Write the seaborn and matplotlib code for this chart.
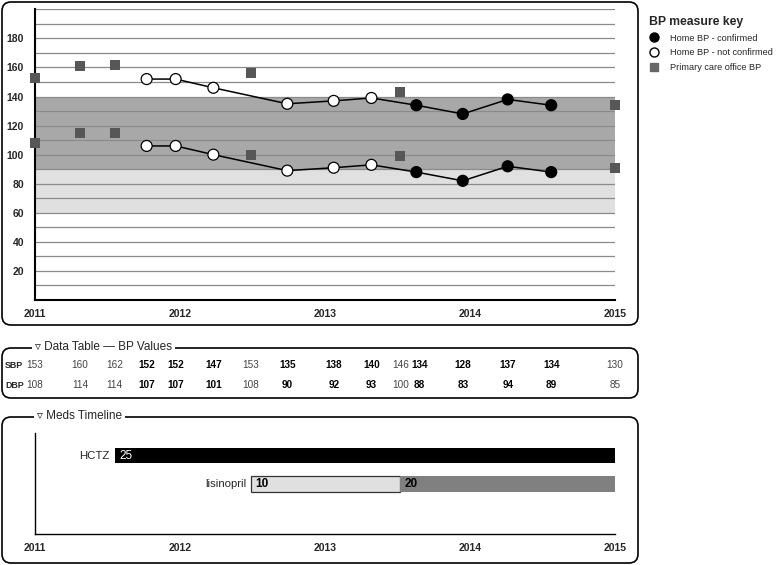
import pandas as pd
import seaborn as sns
import matplotlib.pyplot as plt
from matplotlib.patches import FancyBboxPatch
from matplotlib.lines import Line2D

# ---- data (dates as decimal years) ----
years = [2011, 2012, 2013, 2014, 2015]

office_dates = [2011.0, 2011.31, 2011.55, 2012.49, 2013.52, 2015.0]
office_sbp = [153, 161, 162, 156, 143, 134]
office_dbp = [108, 115, 115, 100, 99, 91]

home_dates = [2011.77, 2011.97, 2012.23, 2012.74, 2013.06, 2013.32,
              2013.63, 2013.95, 2014.26, 2014.56]
home_sbp = [152, 152, 146, 135, 137, 139, 134, 128, 138, 134]
home_dbp = [106, 106, 100, 89, 91, 93, 88, 82, 92, 88]
home_confirmed = [False, False, False, False, False, False, True, True, True, True]

# values listed in the data table
table_dates = [2011.0, 2011.31, 2011.55, 2011.77, 2011.97, 2012.23, 2012.49, 2012.74,
               2013.06, 2013.32, 2013.52, 2013.65, 2013.95, 2014.26, 2014.56, 2015.0]
table_sbp = [153, 160, 162, 152, 152, 147, 153, 135, 138, 140, 146, 134, 128, 137, 134, 130]
table_dbp = [108, 114, 114, 107, 107, 101, 108, 90, 92, 93, 100, 88, 83, 94, 89, 85]
table_home = [False, False, False, True, True, True, False, True,
              True, True, False, True, True, True, True, False]

# meds timeline
meds = ['HCTZ', 'lisinopril']
med_segments = [('HCTZ', 2011.55, 2015.0, '25'),
                ('lisinopril', 2012.49, 2013.52, '10'),
                ('lisinopril', 2013.52, 2015.0, '20')]

sns.set_style('white')
plt.rcParams['font.family'] = ['Liberation Sans', 'DejaVu Sans']

W, H = 778, 565
fig = plt.figure(figsize=(W / 100, H / 100), dpi=100)


def rect(x0, y0, x1, y1):
    # pixel box (top-left origin) -> figure fraction
    return [x0 / W, 1 - y1 / H, (x1 - x0) / W, (y1 - y0) / H]


def panel(x0, y0, x1, y1):
    p = FancyBboxPatch((x0 / 100, (H - y1) / 100), (x1 - x0) / 100, (y1 - y0) / 100,
                       boxstyle='round,pad=0,rounding_size=0.09',
                       transform=fig.dpi_scale_trans, facecolor='none',
                       edgecolor='black', lw=1.2)
    fig.add_artist(p)


def panel_title(x, y, s):
    fig.text(x / W, 1 - y / H, s, fontsize=8.5, va='center', ha='left',
             bbox=dict(facecolor='white', edgecolor='none', pad=2.5))


panel(2, 2, 638, 325)
panel(2, 348, 638, 398)
panel(2, 417, 638, 563)

# ---- BP chart ----
ax = fig.add_axes(rect(35, 9.3, 615, 300))
ax.axhspan(90, 140, color='#a8a8a8', zorder=0, lw=0)
ax.axhspan(60, 90, color='#e0e0e0', zorder=0, lw=0)

home = pd.DataFrame({'date': home_dates * 2, 'value': home_sbp + home_dbp,
                     'measure': ['SBP'] * len(home_dates) + ['DBP'] * len(home_dates),
                     'confirmed': home_confirmed * 2})
office = pd.DataFrame({'date': office_dates * 2, 'value': office_sbp + office_dbp})

sns.lineplot(data=home, x='date', y='value', units='measure', estimator=None,
             color='black', lw=1.1, ax=ax, zorder=3)
sns.scatterplot(data=home, x='date', y='value', hue='confirmed',
                palette={True: 'black', False: 'white'}, edgecolor='black',
                linewidth=0.9, s=62, legend=False, ax=ax, zorder=4)
sns.scatterplot(data=office, x='date', y='value', marker='s', color='#575757',
                edgecolor='none', s=52, legend=False, ax=ax, zorder=6,
                clip_on=False)

ax.set_xlim(2011, 2015)
ax.set_ylim(0, 200)
ax.set_yticks(range(0, 201, 10))
ax.set_yticklabels([str(v) if v % 20 == 0 and 0 < v < 200 else '' for v in range(0, 201, 10)])
ax.set_xticks(years)
ax.set_xticklabels([str(y) for y in years])
ax.yaxis.grid(True, color='#8a8a8a', lw=0.9)
ax.set_axisbelow(False)
for g in ax.get_ygridlines():
    g.set_zorder(1)
ax.set_xlabel('')
ax.set_ylabel('')
for s in ['top', 'right']:
    ax.spines[s].set_visible(False)
for s in ['left', 'bottom']:
    ax.spines[s].set_linewidth(1.5)
    ax.spines[s].set_color('black')
    ax.spines[s].set_zorder(5)
ax.tick_params(axis='y', direction='inout', length=6, width=1, pad=5, labelsize=7.5)
ax.tick_params(axis='x', direction='inout', length=9, width=1, pad=2, labelsize=7.5)
for lab in ax.get_xticklabels() + ax.get_yticklabels():
    lab.set_fontweight('bold')
ax.set_facecolor('none')

handles = [Line2D([], [], marker='o', ls='', color='black', markersize=6.5),
           Line2D([], [], marker='o', ls='', markerfacecolor='white',
                  markeredgecolor='black', markersize=6.5),
           Line2D([], [], marker='s', ls='', color='#666666', markersize=6)]
leg = ax.legend(handles, ['Home BP - confirmed', 'Home BP - not confirmed',
                          'Primary care office BP'],
                loc='upper left', bbox_to_anchor=(649 / W, 1 - 16 / H),
                bbox_transform=fig.transFigure, frameon=False, fontsize=6.6,
                title='BP measure key', alignment='left',
                title_fontproperties={'weight': 'bold', 'size': 8.8},
                handletextpad=1.3, labelspacing=0.62, handlelength=1.0,
                borderpad=0, borderaxespad=0)

# ---- data table ----
panel_title(35, 347, '\u25bf Data Table \u2014 BP Values')
axt = fig.add_axes(rect(35, 355, 615, 395))
axt.set_xlim(2011, 2015)
axt.set_ylim(395, 355)
axt.axis('off')
for d, sv, dv, h in zip(table_dates, table_sbp, table_dbp, table_home):
    kw = dict(fontsize=7.2, ha='center', va='center',
              fontweight='bold' if h else 'normal',
              color='black' if h else '#444444')
    axt.text(d, 365.5, str(sv), **kw)
    axt.text(d, 385.5, str(dv), **kw)
fig.text(5 / W, 1 - 365.5 / H, 'SBP', fontsize=6.4, fontweight='bold', va='center')
fig.text(5 / W, 1 - 385.5 / H, 'DBP', fontsize=6.4, fontweight='bold', va='center')

# ---- meds timeline ----
panel_title(37, 416, '\u25bf Meds Timeline')
axm = fig.add_axes(rect(35, 433, 615, 534))
styles = {'25': ('black', 'none', 'white', 'normal'),
          '10': ('#e0e0e0', '#333333', 'black', 'bold'),
          '20': ('#808080', 'none', 'black', 'bold')}
for med, start, end, dose in med_segments:
    fc, ec, tc, fw = styles[dose]
    row = meds.index(med)
    axm.barh(row, end - start, left=start, height=0.55, color=fc,
             edgecolor=ec, lw=0.9)
    axm.text(start + 0.03, row, dose, color=tc, fontsize=8.5, va='center',
             ha='left', fontweight=fw)
for med in meds:
    first = min(s for m, s, e, d in med_segments if m == med)
    axm.text(first - 0.035, meds.index(med), med, fontsize=8.2, va='center', ha='right')
axm.set_xlim(2011, 2015)
axm.set_ylim(2.75, -0.79)
axm.set_yticks([])
axm.set_xticks(years)
axm.set_xticklabels([str(y) for y in years])
for s in ['top', 'right']:
    axm.spines[s].set_visible(False)
for s in ['left', 'bottom']:
    axm.spines[s].set_linewidth(1.0)
    axm.spines[s].set_color('black')
axm.tick_params(axis='x', direction='inout', length=9, width=1, pad=2, labelsize=7.5)
for lab in axm.get_xticklabels():
    lab.set_fontweight('bold')
axm.set_facecolor('none')

fig.savefig('out.png', dpi=100)
